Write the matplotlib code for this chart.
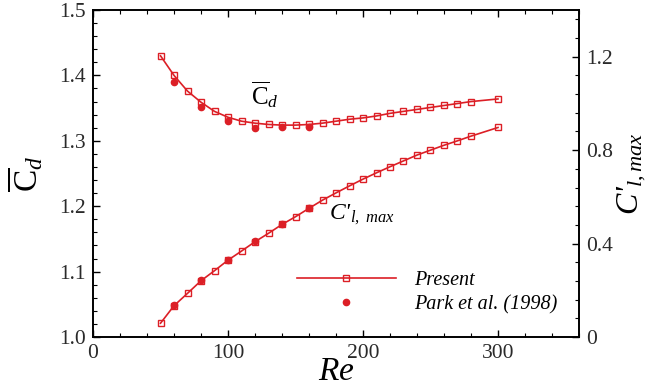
import matplotlib
matplotlib.use("Agg")
import matplotlib.pyplot as plt
from matplotlib.ticker import MultipleLocator

plt.rcParams['font.family'] = ['Liberation Serif', 'DejaVu Serif']
plt.rcParams['mathtext.fontset'] = 'custom'
plt.rcParams['mathtext.rm'] = 'Liberation Serif'
plt.rcParams['mathtext.it'] = 'Liberation Serif:italic'

RED = '#dc1f26'

# present results
re_present = [50, 60, 70, 80, 90, 100, 110, 120, 130, 140, 150, 160, 170, 180,
              190, 200, 210, 220, 230, 240, 250, 260, 270, 280, 300]
cd_present = [1.430, 1.400, 1.376, 1.359, 1.345, 1.336, 1.330, 1.327, 1.325, 1.324,
              1.324, 1.325, 1.327, 1.330, 1.333, 1.335, 1.338, 1.342, 1.345, 1.348,
              1.351, 1.354, 1.357, 1.360, 1.364]
cl_present = [0.059, 0.134, 0.187, 0.241, 0.284, 0.329, 0.368, 0.408, 0.444, 0.482,
              0.515, 0.551, 0.586, 0.617, 0.647, 0.676, 0.703, 0.729, 0.754, 0.779,
              0.800, 0.821, 0.840, 0.860, 0.897]

# Park et al. (1998)
re_park = [60, 80, 100, 120, 140, 160]
cd_park = [1.390, 1.351, 1.330, 1.320, 1.321, 1.321]
cl_park = [0.136, 0.243, 0.330, 0.410, 0.483, 0.552]

fig = plt.figure(figsize=(6.56, 3.88), dpi=100)
ax = fig.add_axes([0.1418, 0.1314, 0.7408, 0.8428])
ax2 = ax.twinx()

l1, = ax.plot(re_present, cd_present, '-s', color=RED, lw=1.2, ms=5,
              mfc='none', mec=RED, mew=1.0, label='Present')
l2, = ax.plot(re_park, cd_park, 'o', color=RED, ms=4.5, lw=0, label='Park et al. (1998)')
ax2.plot(re_present, cl_present, '-s', color=RED, lw=1.2, ms=5,
         mfc='none', mec=RED, mew=1.0)
ax2.plot(re_park, cl_park, 'o', color=RED, ms=4.5, lw=0)

ax.set_xlim(0, 360)
ax.set_ylim(1.0, 1.5)
ax2.set_ylim(0, 1.4)

ax.xaxis.set_minor_locator(MultipleLocator(20))
ax.yaxis.set_minor_locator(MultipleLocator(0.02))
ax2.yaxis.set_minor_locator(MultipleLocator(0.08))

ax.set_xticks([0, 100, 200, 300])
ax.set_xticklabels(['0', '100', '200', '300'])
ax.set_yticks([1.0, 1.1, 1.2, 1.3, 1.4, 1.5])
ax.set_yticklabels(['1.0', '1.1', '1.2', '1.3', '1.4', '1.5'])
ax2.set_yticks([0, 0.4, 0.8, 1.2])
ax2.set_yticklabels(['0', '0.4', '0.8', '1.2'])

ax.tick_params(which='both', direction='in', top=True, right=False, labelsize=15.5,
               labelcolor='#2a2a2a', pad=5)
ax.tick_params(which='major', length=5, width=1)
ax.tick_params(which='minor', length=3, width=0.8)
ax2.tick_params(which='both', direction='in', labelsize=15.5, labelcolor='#2a2a2a', pad=5)
ax2.tick_params(which='major', length=5, width=1)
ax2.tick_params(which='minor', length=3, width=0.8)
for a in (ax, ax2):
    for s in a.spines.values():
        s.set_linewidth(1.2)

ax.set_xlabel('$Re$', fontsize=24, labelpad=-5)
ax.set_ylabel(r'$\overline{\mathrm{C}}_d$', fontsize=24, labelpad=10)
ax2.set_ylabel("$C$'$_{l,max}$", fontsize=23, labelpad=2, style='italic')

ax.text(127, 1.37, r'$\overline{\mathrm{C}}_d$', fontsize=18, ha='center', va='center')
ax.text(175, 1.187, "$C$'$_{l,\\ max}$", fontsize=17, ha='left', va='center', style='italic')

ax.legend(handles=[l1, l2], loc='lower left', bbox_to_anchor=(0.42, 0.07),
          frameon=False, handlelength=4.9, borderpad=0, borderaxespad=0,
          prop={'style': 'italic', 'size': 14.5},
          handletextpad=0.9, labelspacing=0.25)

fig.savefig('out.png', dpi=100)
